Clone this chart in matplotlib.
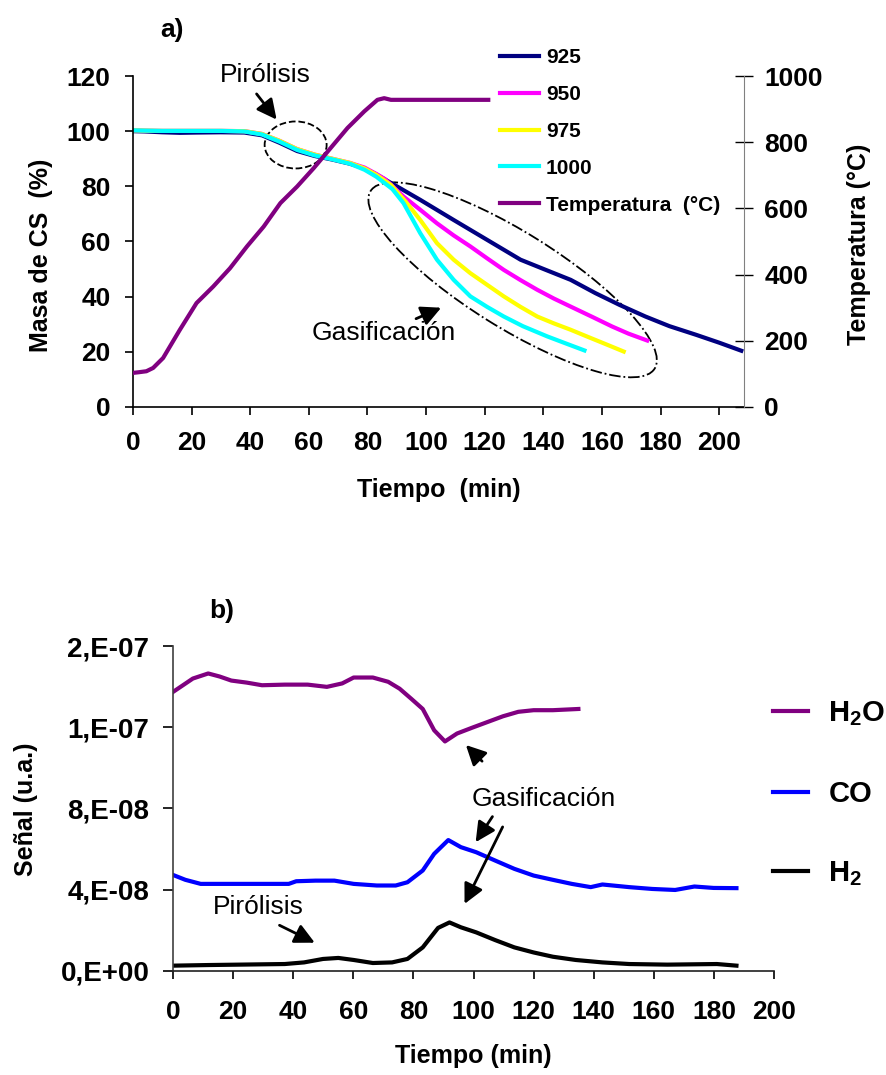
import matplotlib
matplotlib.use("Agg")
import matplotlib.pyplot as plt
from matplotlib.patches import Ellipse
from matplotlib.transforms import ScaledTranslation

plt.rcParams['font.family'] = ['Liberation Sans', 'DejaVu Sans']
plt.rcParams['font.weight'] = 'bold'
plt.rcParams['mathtext.fontset'] = 'custom'
plt.rcParams['mathtext.rm'] = 'Liberation Sans:bold'
plt.rcParams['mathtext.it'] = 'Liberation Sans:bold'
plt.rcParams['mathtext.bf'] = 'Liberation Sans:bold'

# ---- panel a) : mass of char (%) vs time, and furnace temperature
t_925 = [0, 4, 10, 16, 22, 30, 38, 44, 50, 56, 62, 68, 74, 79, 83, 89.2, 98, 109.4,
         120.8, 132.2, 140.6, 149.3, 157.7, 166, 174.8, 183, 192, 200, 207.5]
m_925 = [100, 99.9, 99.6, 99.4, 99.5, 99.6, 99.5, 98.5, 95.8, 92.8, 91.0, 89.7, 88.2,
         86.5, 84.3, 80.5, 75.1, 67.8, 60.6, 53.4, 49.8, 46.1, 41.3, 37.0, 32.8, 29.3,
         26.2, 23.3, 20.4]

t_950 = [0, 4, 10, 16, 22, 30, 38, 44, 50, 56, 62, 68, 74, 79, 83, 86, 92.3, 98, 103.7,
         109.4, 115.1, 120.8, 126.5, 132.2, 137.9, 143.6, 149.3, 157, 163.4, 169, 175.4]
m_950 = [100.3, 100.2, 100.1, 100.1, 100.1, 100.1, 100, 99, 96.5, 93.5, 91.5, 90, 88.5,
         86.8, 84.5, 82.6, 76.3, 71.5, 66.6, 62.2, 58.2, 53.9, 49.7, 46.0, 42.5, 39.3,
         36.4, 32.5, 29.2, 26.6, 24.1]

t_975 = [0, 4, 10, 16, 22, 30, 38, 44, 50, 56, 62, 68, 74, 79, 83, 88, 93, 98, 103.7,
         109.4, 115.1, 120.8, 126.5, 132.2, 137.9, 143.6, 149.3, 155, 161, 167.4]
m_975 = [100.3, 100.2, 100.1, 100.1, 100.1, 100.1, 100, 99, 96.5, 93.5, 91.5, 90, 88.5,
         86.5, 84.2, 80.5, 74.5, 67.8, 59.4, 53.4, 48.5, 44.3, 40.1, 36.3, 32.8, 30.3,
         28.0, 25.5, 22.9, 20.1]

t_1000 = [0, 4, 10, 16, 22, 30, 38, 44, 50, 56, 62, 68, 74, 79, 83, 88.5, 92.3, 98,
          103.7, 109.4, 115.1, 120.8, 126.5, 133, 141.3, 147, 154]
m_1000 = [100.3, 100.2, 100.1, 100.1, 100.1, 100.1, 99.9, 98.8, 96.2, 93.2, 91.2, 89.8,
          88.2, 86.0, 83.5, 79.0, 73.9, 63.0, 53.4, 46.1, 40.1, 36.3, 32.8, 29.3, 25.6,
          23.3, 20.5]

t_temp = [0, 2, 4.6, 6.9, 10.3, 16, 21.7, 27.4, 33.1, 38.9, 44.6, 50.3, 56, 61.7, 67.4,
          73.2, 78.9, 83.4, 85.7, 88, 121.2]
temp_c = [103, 105, 108, 118, 148, 233, 314, 364, 419, 485, 545, 616, 666, 722, 782,
          843, 893, 928, 933, 928, 928]

mass_series = [("925", t_925, m_925, "#000080"),
               ("950", t_950, m_950, "#FF00FF"),
               ("975", t_975, m_975, "#FFFF00"),
               ("1000", t_1000, m_1000, "#00FFFF")]

# ---- panel b) : mass spectrometer signals
t_h2o = [0, 6.6, 11.7, 15.5, 19.4, 24.5, 29.6, 37.2, 44.8, 51.2, 56.3, 60.1, 66.5, 71.6,
         75.4, 79.3, 83.1, 86.9, 90.5, 94.5, 99.6, 104.7, 109.8, 114.9, 120, 126.4, 134.9]
s_h2o = [13.74, 14.4, 14.65, 14.5, 14.3, 14.2, 14.07, 14.1, 14.1, 13.99, 14.16, 14.45,
         14.45, 14.24, 13.9, 13.4, 12.9, 11.85, 11.3, 11.69, 11.98, 12.26, 12.54, 12.76,
         12.84, 12.84, 12.9]

t_co = [0, 4.1, 9.2, 24.5, 38.5, 41, 47.4, 53.7, 60.1, 67.8, 74.1, 78, 83.1, 86.9, 91.6,
        95.8, 100.9, 107.2, 113.6, 120, 126.4, 132.7, 139, 142.9, 151.8, 159.5, 167.1,
        173.5, 179.9, 187.5]
s_co = [4.72, 4.48, 4.28, 4.28, 4.28, 4.41, 4.44, 4.44, 4.28, 4.2, 4.2, 4.36, 4.94, 5.76,
        6.44, 6.09, 5.84, 5.43, 5.02, 4.69, 4.48, 4.28, 4.12, 4.25, 4.12, 4.03, 3.98,
        4.15, 4.08, 4.07]

t_h2 = [0, 11.7, 37.2, 43.6, 49.9, 55, 60.1, 66.5, 72.9, 78, 83.1, 88.2, 92, 95.8, 100.9,
        107.2, 113.6, 120, 126.4, 134, 142.9, 151.8, 164.5, 181, 187.5]
s_h2 = [0.25, 0.28, 0.33, 0.41, 0.58, 0.63, 0.53, 0.38, 0.41, 0.58, 1.15, 2.11, 2.38,
        2.14, 1.89, 1.51, 1.15, 0.9, 0.69, 0.53, 0.41, 0.33, 0.3, 0.33, 0.25]

gas_series = [("H$_2$O", t_h2o, s_h2o, "#800080"),
              ("CO", t_co, s_co, "#0000FF"),
              ("H$_2$", t_h2, s_h2, "#000000")]

sig_ticks = [0, 4e-8, 8e-8, 1.2e-7, 1.6e-7]
sig_labels = ["0,E+00", "4,E-08", "8,E-08", "1,E-07", "2,E-07"]

arrow_kw = dict(arrowstyle="-|>", color="k", lw=2, mutation_scale=30)

fig = plt.figure(figsize=(8.86, 10.75), dpi=100)

# ================= panel a)
ax1 = fig.add_axes([0.150, 0.6214, 0.690, 0.3079])
ax2 = ax1.twinx()

handles = []
for name, t, m, c in mass_series:
    h, = ax1.plot(t, m, color=c, lw=3, label=name)
    handles.append(h)
ht, = ax2.plot(t_temp, temp_c, color="#800080", lw=3, label="Temperatura  (°C)")
handles.append(ht)

ax1.set_xlim(0, 208.5)
ax1.set_ylim(0, 120)
ax2.set_ylim(0, 1000)
ax1.set_xticks(range(0, 201, 20))
ax1.set_yticks(range(0, 121, 20))
ax2.set_yticks(range(0, 1001, 200))

for s in ["top", "right"]:
    ax1.spines[s].set_visible(False)
for s in ["top", "left", "bottom"]:
    ax2.spines[s].set_visible(False)
ax2.spines["right"].set_color("#808080")
ax1.spines["left"].set_linewidth(1.2)
ax1.spines["bottom"].set_linewidth(1.2)

ax1.tick_params(axis="y", direction="out", length=6, width=1.2, pad=10, labelsize=19)
ax1.tick_params(axis="x", direction="out", length=6, width=1.2, pad=11, labelsize=19)
ax2.tick_params(axis="y", direction="inout", length=13, width=1, pad=8, labelsize=19)

ax1.set_xlabel("Tiempo  (min)", fontsize=18, fontweight="bold")
ax1.xaxis.set_label_coords(0.5, -0.215)
ax1.set_ylabel("Masa de CS  (%)", fontsize=18, fontweight="bold")
ax1.yaxis.set_label_coords(-0.131, 0.457)
ax2.set_ylabel("Temperatura (°C)", fontsize=18, fontweight="bold")
ax2.yaxis.set_label_coords(1.168, 0.49)

fig.legend(handles=handles, loc="upper left", bbox_to_anchor=(500 / 886, 1 - 48 / 1075),
           frameon=False, fontsize=15, handlelength=1.85, handletextpad=0.35,
           labelspacing=0.86, borderpad=0, borderaxespad=0)

# annotations
ax1.text(45, 120.5, "Pirólisis", fontsize=19, fontweight="normal", ha="center", va="center")
ax1.annotate("", xy=(49.6, 103.4), xytext=(41.6, 114.3), arrowprops=arrow_kw)
ax1.text(85.5, 26.8, "Gasificación", fontsize=19, fontweight="normal", ha="center", va="center")
ax1.annotate("", xy=(106, 36.4), xytext=(95.7, 31.6), arrowprops=arrow_kw)

circ = Ellipse((0, 0), 0.62, 0.47, fill=False, ls="--", lw=1.3, color="k",
               transform=fig.dpi_scale_trans + ScaledTranslation(55.5, 95, ax1.transData))
ax1.add_artist(circ)
oval = Ellipse((0, 0), 3.35, 0.95, angle=-32, fill=False, ls="-.", lw=1.3, color="k",
               transform=fig.dpi_scale_trans + ScaledTranslation(129.5, 46.1, ax1.transData))
ax1.add_artist(oval)

fig.text(172 / 886, 1 - 30 / 1075, "a)", fontsize=19, fontweight="bold", ha="center", va="center")

# ================= panel b)
ax3 = fig.add_axes([0.1953, 0.097, 0.6783, 0.302])
gh = []
for name, t, s, c in gas_series:
    h, = ax3.plot(t, [v * 1e-8 for v in s], color=c, lw=3, label=name)
    gh.append(h)

ax3.set_xlim(0, 200)
ax3.set_ylim(0, 1.6e-7)
ax3.set_xticks(range(0, 201, 20))
ax3.set_yticks(sig_ticks)
ax3.set_yticklabels(sig_labels)
for s in ["top", "right"]:
    ax3.spines[s].set_visible(False)
ax3.spines["left"].set_color("#404040")
ax3.spines["bottom"].set_color("#202020")
ax3.spines["left"].set_linewidth(1.2)
ax3.spines["bottom"].set_linewidth(1.2)
ax3.tick_params(axis="y", direction="out", length=7, width=1.2, pad=10, labelsize=20)
ax3.tick_params(axis="x", direction="out", length=6, width=1.2, pad=15, labelsize=19)

ax3.set_xlabel("Tiempo (min)", fontsize=18, fontweight="bold")
ax3.xaxis.set_label_coords(0.5, -0.225)
ax3.set_ylabel("Señal (u.a.)", fontsize=18, fontweight="bold")
ax3.yaxis.set_label_coords(-0.2246, 0.498)

fig.legend(handles=gh, loc="upper left", bbox_to_anchor=(773 / 886, 1 - 699 / 1075),
           frameon=False, fontsize=21, handlelength=1.2, handletextpad=0.7,
           labelspacing=1.78, borderpad=0, borderaxespad=0)

ax3.text(123.5, 8.48e-8, "Gasificación", fontsize=19, fontweight="normal", ha="center", va="center")
ax3.annotate("", xy=(96.8, 11.22e-8), xytext=(103.5, 10.23e-8), arrowprops=arrow_kw)
ax3.annotate("", xy=(100.2, 6.22e-8), xytext=(106.8, 7.71e-8), arrowprops=arrow_kw)
ax3.annotate("", xy=(96.6, 3.17e-8), xytext=(110.1, 7.21e-8), arrowprops=arrow_kw)
ax3.text(28.3, 3.16e-8, "Pirólisis", fontsize=19, fontweight="normal", ha="center", va="center")
ax3.annotate("", xy=(48, 1.32e-8), xytext=(34.6, 2.3e-8), arrowprops=arrow_kw)

fig.text(222 / 886, 1 - 611 / 1075, "b)", fontsize=19, fontweight="bold", ha="center", va="center")

fig.savefig("out.png", dpi=100)
